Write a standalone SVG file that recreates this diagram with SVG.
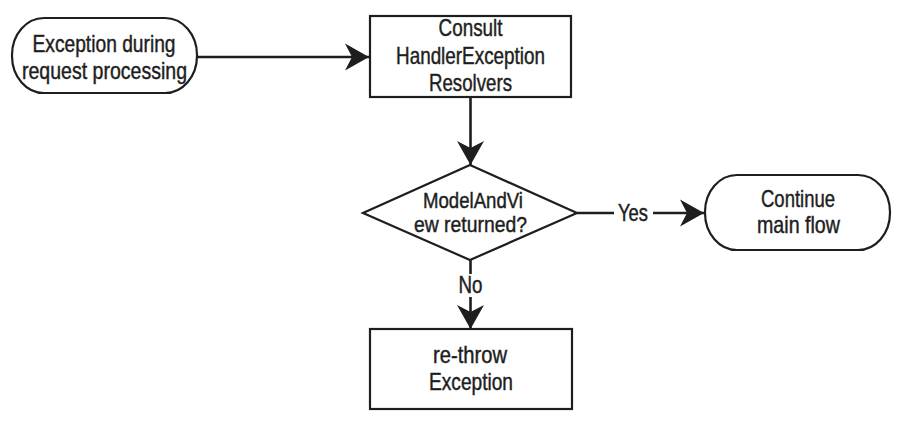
<svg xmlns="http://www.w3.org/2000/svg" width="904" height="423" viewBox="0 0 904 423">
<style>
.shape{fill:#fff;stroke:#1e1e1e;stroke-width:2.2}
.conn{fill:none;stroke:#1e1e1e;stroke-width:2.6}
text{font-family:"Liberation Sans",Arial,sans-serif;font-size:24px;fill:#1e1e1e;stroke:#1e1e1e;stroke-width:0.45;text-anchor:middle}
text.sm{font-size:22.5px}
</style>
<defs>
<marker id="arr" markerUnits="userSpaceOnUse" markerWidth="30" markerHeight="30" viewBox="-26 -15 28 30" refX="0" refY="0" orient="auto">
<path d="M0,0 L-24,-13.5 L-17,0 L-24,13.5 Z" fill="#1e1e1e"/>
</marker>
</defs>
<rect width="904" height="423" fill="#fff"/>
<g id="connectors">
<path class="conn" d="M197,57 H369" marker-end="url(#arr)"/>
<path class="conn" d="M470.5,97 V165" marker-end="url(#arr)"/>
<path class="conn" d="M577,213 H614"/>
<path class="conn" d="M653,213 H704" marker-end="url(#arr)"/>
<text x="633" y="221" textLength="30" lengthAdjust="spacingAndGlyphs">Yes</text>
<path class="conn" d="M470.5,260 V274"/>
<path class="conn" d="M470.5,297 V329" marker-end="url(#arr)"/>
<text x="470.5" y="293" textLength="24" lengthAdjust="spacingAndGlyphs">No</text>
</g>
<g id="start">
<rect class="shape" x="12" y="18" width="185" height="75" rx="32" ry="37"/>
<text x="104" y="52" textLength="143" lengthAdjust="spacingAndGlyphs">Exception during</text>
<text x="104.5" y="78.5" textLength="165" lengthAdjust="spacingAndGlyphs">request processing</text>
</g>
<g id="consult">
<rect class="shape" x="370" y="16" width="201" height="81"/>
<text x="470.5" y="36" textLength="64" lengthAdjust="spacingAndGlyphs">Consult</text>
<text x="470.5" y="63.5" textLength="149" lengthAdjust="spacingAndGlyphs">HandlerException</text>
<text x="470.5" y="91" textLength="83" lengthAdjust="spacingAndGlyphs">Resolvers</text>
</g>
<g id="decision">
<polygon class="shape" points="470,165 577,213 470,260 363,213"/>
<text class="sm" x="473" y="208" textLength="100" lengthAdjust="spacingAndGlyphs">ModelAndVi</text>
<text class="sm" x="470.5" y="231.5" textLength="113" lengthAdjust="spacingAndGlyphs">ew returned?</text>
</g>
<g id="continue">
<rect class="shape" x="705" y="175" width="185" height="75" rx="32" ry="37"/>
<text x="798" y="207" textLength="74" lengthAdjust="spacingAndGlyphs">Continue</text>
<text x="798.5" y="233" textLength="83" lengthAdjust="spacingAndGlyphs">main flow</text>
</g>
<g id="rethrow">
<rect class="shape" x="370" y="329" width="202" height="80"/>
<text x="470" y="363" textLength="74" lengthAdjust="spacingAndGlyphs">re-throw</text>
<text x="471" y="390" textLength="84" lengthAdjust="spacingAndGlyphs">Exception</text>
</g>
</svg>
